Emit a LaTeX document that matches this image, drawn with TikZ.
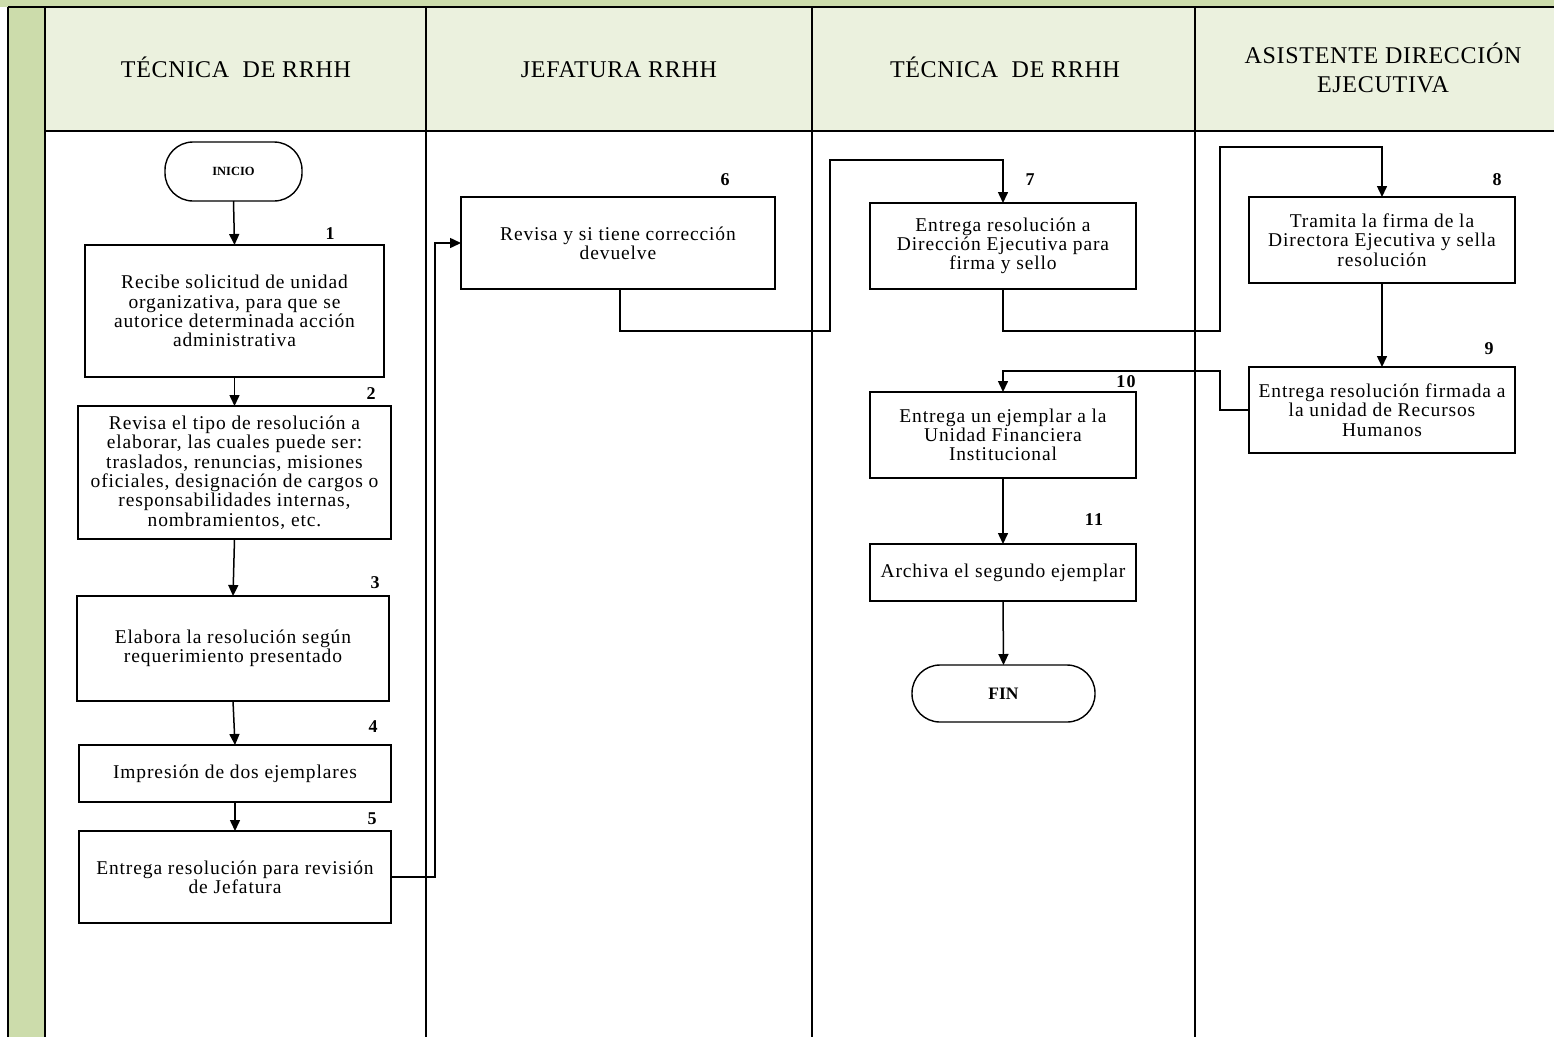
\documentclass[tikz,border=0pt]{standalone}
\usepackage{fontspec}
\setmainfont{Liberation Serif}
\newfontfamily\boxfont[LetterSpace=4.5]{Liberation Serif}
\newfontfamily\headfont[LetterSpace=3]{Liberation Serif}
\newfontfamily\numfont[LetterSpace=6]{Liberation Serif}
\usetikzlibrary{arrows.meta}
\definecolor{laneGreen}{HTML}{CCDCAB}
\definecolor{headFill}{HTML}{EBF1DE}
\begin{document}
\begin{tikzpicture}[x=1pt,y=-1pt,
  every node/.style={inner sep=0pt,outer sep=0pt},
  stepbox/.style={draw,line width=1.4pt,align=center,font=\boxfont\fontsize{19.5}{19.3}\selectfont},
  terminal/.style={draw,line width=1.4pt,rounded corners=28pt},
  stepnum/.style={font=\numfont\bfseries\fontsize{18}{18}\selectfont},
  lanehead/.style={align=center,anchor=base,font=\headfont\fontsize{24}{29}\selectfont},
  flow/.style={line width=1.5pt,-{Triangle[width=10pt,length=11pt]}},
  frame/.style={line width=2pt}]
\useasboundingbox (0,0) rectangle (1554,1037);

% swimlane frame
\fill[laneGreen] (0,0) rectangle (1554,7);
\fill[laneGreen] (8,7) rectangle (45,1037);
\fill[headFill] (45,7) rectangle (1554,131);
\draw[frame] (8,7) -- (1554,7);
\draw[frame] (45,131) -- (1554,131);
\draw[frame] (8,7) -- (8,1037);
\draw[frame] (45,7) -- (45,1037);
\draw[frame] (426,7) -- (426,1037);
\draw[frame] (812,7) -- (812,1037);
\draw[frame] (1195,7) -- (1195,1037);

% lane titles (base anchor = baseline of the last line)
\node[lanehead] (h1) at (236,77) {TÉCNICA\ \ DE RRHH};
\node[lanehead] (h2) at (619,77) {JEFATURA RRHH};
\node[lanehead] (h3) at (1005,77) {TÉCNICA\ \ DE RRHH};
\node[lanehead] (h4) at (1383,92) {ASISTENTE DIRECCIÓN\\EJECUTIVA};

% process steps
\node[terminal,minimum width=137pt,minimum height=59pt,font=\bfseries\fontsize{12.5}{12}\selectfont] (inicio) at (233.5,171.5) {INICIO};
\node[stepbox,minimum width=299pt,minimum height=132pt] (b1) at (234.5,311) {Recibe solicitud de unidad\\organizativa, para que se\\autorice determinada acción\\administrativa};
\node[stepbox,minimum width=313pt,minimum height=133pt] (b2) at (234.5,472.5) {Revisa el tipo de resolución a\\elaborar, las cuales puede ser:\\traslados, renuncias, misiones\\oficiales, designación de cargos o\\responsabilidades internas,\\nombramientos, etc.};
\node[stepbox,minimum width=312pt,minimum height=105pt] (b3) at (233,648.5) {Elabora la resolución según\\requerimiento presentado};
\node[stepbox,minimum width=312pt,minimum height=57pt] (b4) at (235,773.5) {Impresión de dos ejemplares};
\node[stepbox,minimum width=312pt,minimum height=92pt] (b5) at (235,877) {Entrega resolución para revisión\\de Jefatura};
\node[stepbox,minimum width=314pt,minimum height=92pt] (b6) at (618,243) {Revisa y si tiene corrección\\devuelve};
\node[stepbox,minimum width=266pt,minimum height=86pt] (b7) at (1003,246) {Entrega resolución a\\Dirección Ejecutiva para\\firma y sello};
\node[stepbox,minimum width=266pt,minimum height=86pt] (b8) at (1382,240) {Tramita la firma de la\\Directora Ejecutiva y sella\\resolución};
\node[stepbox,minimum width=266pt,minimum height=86pt] (b9) at (1382,410) {Entrega resolución firmada a\\la unidad de Recursos\\Humanos};
\node[stepbox,minimum width=266pt,minimum height=86pt] (b10) at (1003,435) {Entrega un ejemplar a la\\Unidad Financiera\\Institucional};
\node[stepbox,minimum width=266pt,minimum height=57pt] (b11) at (1003,572.5) {Archiva el segundo ejemplar};
\node[terminal,minimum width=183pt,minimum height=57pt,font=\bfseries\fontsize{17.5}{17}\selectfont] (fin) at (1003.5,693.5) {FIN};

% step numbers
\node[stepnum] (n1) at (330,234) {1};
\node[stepnum] (n2) at (371,394) {2};
\node[stepnum] (n3) at (375,583) {3};
\node[stepnum] (n4) at (373,727) {4};
\node[stepnum] (n5) at (372,819) {5};
\node[stepnum] (n6) at (725,180) {6};
\node[stepnum] (n7) at (1030,180) {7};
\node[stepnum] (n8) at (1497,180) {8};
\node[stepnum] (n9) at (1489,349) {9};
\node[stepnum] (n10) at (1126,382) {10};
\node[stepnum] (n11) at (1094,520) {11};

% routing points
\coordinate (r5) at (435,877);
\coordinate (r6a) at (620,331);
\coordinate (r6b) at (830,331);
\coordinate (r6c) at (830,160);
\coordinate (r7a) at (1003,331);
\coordinate (r7b) at (1220,331);
\coordinate (r7c) at (1220,147);
\coordinate (r9a) at (1220,410);
\coordinate (r9b) at (1220,371);

% connectors
\draw[flow] (inicio.south) -- (b1.north);
\draw[flow] (b1.south) -- (b2.north);
\draw[flow] (b2.south) -- (b3.north);
\draw[flow] (b3.south) -- (b4.north);
\draw[flow] (b4.south) -- (b5.north);
\draw[flow] (b5.east) -- (r5) |- (b6.west);
\draw[flow] (b6.south -| r6a) -- (r6a) -- (r6b) -- (r6c) -| (b7.north);
\draw[flow] (b7.south) -- (r7a) -- (r7b) -- (r7c) -| (b8.north);
\draw[flow] (b8.south) -- (b9.north);
\draw[flow] (b9.west) -- (r9a) -- (r9b) -| (b10.north);
\draw[flow] (b10.south) -- (b11.north);
\draw[flow] (b11.south) -- (fin.north);
\end{tikzpicture}
\end{document}
